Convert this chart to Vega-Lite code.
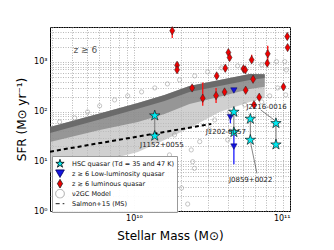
{
  "$schema": "https://vega.github.io/schema/vega-lite/v6.json",
  "width": 240,
  "height": 184,
  "autosize": {"type": "none"},
  "padding": {"left": 50, "top": 27, "right": 44, "bottom": 39},
  "background": "white",
  "config": {
    "view": {"stroke": "black", "strokeWidth": 1},
    "font": "DejaVu Sans",
    "axis": {"labelFont": "DejaVu Sans", "titleFont": "DejaVu Sans", "labelColor": "black", "titleColor": "black", "titleFontWeight": "normal"}
  },
  "datasets": {
    "band": [
      {"m": 2.9e9, "lo": 6.1, "hi": 49.0, "dlo": 24.4, "clo": 37.1},
      {"m": 6.03e9, "lo": 9.7, "hi": 91.6, "dlo": 42.6, "clo": 69.3},
      {"m": 1.06e10, "lo": 15.4, "hi": 149, "dlo": 61.8, "clo": 113},
      {"m": 1.57e10, "lo": 26.8, "hi": 216, "dlo": 89.5, "clo": 163},
      {"m": 2.27e10, "lo": 46.8, "hi": 327, "dlo": 142, "clo": 248},
      {"m": 3.54e10, "lo": 98, "hi": 432, "dlo": 197, "clo": 327},
      {"m": 5.52e10, "lo": 156, "hi": 571, "dlo": 285, "clo": 432},
      {"m": 6.89e10, "lo": 188, "hi": 560, "dlo": 313, "clo": 470}
    ],
    "model": [
      {"m": 3.34e9, "s": 61.8}, {"m": 4.17e9, "s": 74.3}, {"m": 5.05e9, "s": 98.2}, {"m": 6.03e9, "s": 130},
      {"m": 7.52e9, "s": 171}, {"m": 9.12e9, "s": 206}, {"m": 1.12e10, "s": 248}, {"m": 1.36e10, "s": 298},
      {"m": 1.64e10, "s": 359}, {"m": 1.96e10, "s": 432}, {"m": 2.45e10, "s": 520}, {"m": 2.97e10, "s": 627},
      {"m": 3.65e10, "s": 754}, {"m": 4.62e10, "s": 827}, {"m": 6.59e10, "s": 867}, {"m": 8.19e10, "s": 1009},
      {"m": 9.25e10, "s": 1009}, {"m": 9.48e10, "s": 687}, {"m": 8.34e10, "s": 298}, {"m": 7.41e10, "s": 206},
      {"m": 6.59e10, "s": 156}, {"m": 9.38e10, "s": 216}, {"m": 2.64e10, "s": 24.8}, {"m": 2.38e10, "s": 9.8},
      {"m": 2.21e10, "s": 1.38}, {"m": 2.02e10, "s": 2.9}, {"m": 2.44e10, "s": 7.2}, {"m": 2.33e10, "s": 16.9},
      {"m": 1.69e10, "s": 13.4}, {"m": 1.26e10, "s": 8.4}, {"m": 8.09e9, "s": 11.7}, {"m": 5.6e9, "s": 7.3},
      {"m": 3.6e9, "s": 6.1}, {"m": 3.29e10, "s": 67.8}, {"m": 4.1e10, "s": 98}, {"m": 5.13e10, "s": 136},
      {"m": 3.05e10, "s": 42.7}, {"m": 1.82e10, "s": 33.8}, {"m": 3.99e10, "s": 26.8}, {"m": 8.09e9, "s": 5.3}
    ],
    "ms": [
      {"m": 2.9e9, "s": 15.6},
      {"m": 3.13e10, "s": 56.3}
    ],
    "lum": [
      {"m": 1.76e10, "s": 4200, "lo": 3020, "hi": 4400},
      {"m": 1.89e10, "s": 850, "lo": 760, "hi": 950},
      {"m": 1.89e10, "s": 690, "lo": 610, "hi": 780},
      {"m": 2.36e10, "s": 298, "lo": 260, "hi": 340},
      {"m": 2.76e10, "s": 185, "lo": 130, "hi": 381},
      {"m": 3.39e10, "s": 520, "lo": 450, "hi": 600},
      {"m": 3.36e10, "s": 209, "lo": 149, "hi": 298},
      {"m": 3.85e10, "s": 742, "lo": 640, "hi": 860},
      {"m": 3.81e10, "s": 247, "lo": 215, "hi": 285},
      {"m": 4.03e10, "s": 1530, "lo": 1350, "hi": 1750},
      {"m": 4.1e10, "s": 1216, "lo": 1060, "hi": 1400},
      {"m": 5.03e10, "s": 720, "lo": 630, "hi": 820},
      {"m": 5.17e10, "s": 687, "lo": 600, "hi": 790},
      {"m": 5.2e10, "s": 268, "lo": 235, "hi": 305},
      {"m": 5.68e10, "s": 1093, "lo": 960, "hi": 1377},
      {"m": 5.8e10, "s": 446, "lo": 390, "hi": 510},
      {"m": 5.88e10, "s": 137, "lo": 120, "hi": 156},
      {"m": 6.35e10, "s": 194, "lo": 170, "hi": 220},
      {"m": 7.2e10, "s": 1445, "lo": 1010, "hi": 2090},
      {"m": 7.15e10, "s": 937, "lo": 820, "hi": 1070},
      {"m": 9.08e10, "s": 313, "lo": 275, "hi": 355},
      {"m": 9.6e10, "s": 3214, "lo": 2850, "hi": 3600},
      {"m": 9.65e10, "s": 1930, "lo": 1700, "hi": 2200}
    ],
    "lowl": [
      {"m": 4.37e10, "s": 264, "lo": 264, "hi": 264},
      {"m": 4.15e10, "s": 77, "lo": 58, "hi": 82},
      {"m": 4.37e10, "s": 19.7, "lo": 8.7, "hi": 34}
    ],
    "hsc": [
      {"name": "J1152+0055", "m": 1.36e10, "hi": 82.7, "lo": 32.3},
      {"name": "J1202-0057", "m": 4.37e10, "hi": 98, "lo": 38.3},
      {"name": "J0859+0022", "m": 5.57e10, "hi": 71, "lo": 26.8},
      {"name": "J2216-0016", "m": 8.13e10, "hi": 58, "lo": 21.6}
    ],
    "hscpts": [
      {"m": 1.36e10, "s": 82.7}, {"m": 1.36e10, "s": 32.3},
      {"m": 4.37e10, "s": 98}, {"m": 4.37e10, "s": 38.3},
      {"m": 5.57e10, "s": 71}, {"m": 5.57e10, "s": 26.8},
      {"m": 8.13e10, "s": 58}, {"m": 8.13e10, "s": 21.6}
    ],
    "leaders": [
      {"m": 5.6e10, "s": 23, "m2": 6.14e10, "s2": 5.7},
      {"m": 6.49e10, "s": 107.7, "m2": 8.0e10, "s2": 66}
    ],
    "labels": [
      {"text": "J1152+0055", "m": 1.51e10, "s": 21.3, "align": "center"},
      {"text": "J1202-0057", "m": 3.88e10, "s": 38.3, "align": "right"},
      {"text": "J0859+0022", "m": 5.6e10, "s": 4.15, "align": "center"},
      {"text": "J2216-0016", "m": 7.07e10, "s": 125.6, "align": "center"}
    ],
    "zlabel": [{"text": "z ≳ 6", "m": 4.1e9, "s": 1740}]
  },
  "layer": [
    {
      "data": {"name": "band"},
      "mark": {"type": "area", "color": "#bcbcbc", "opacity": 0.7, "clip": true},
      "encoding": {
        "x": {"field": "m", "type": "quantitative",
          "scale": {"type": "log", "domain": [2.9e9, 1e11], "nice": false},
          "axis": {"title": "Stellar Mass (M⊙)", "titleFontSize": 12, "titlePadding": 8, "labelFontSize": 8, "labelPadding": 3,
            "values": [3e9, 4e9, 5e9, 6e9, 7e9, 8e9, 9e9, 1e10, 2e10, 3e10, 4e10, 5e10, 6e10, 7e10, 8e10, 9e10, 1e11],
            "labelExpr": "datum.value == 1e10 ? '10¹⁰' : datum.value == 1e11 ? '10¹¹' : ''",
            "grid": true, "gridColor": "#9a9a9a", "gridDash": [1, 1.5], "gridWidth": 0.7, "ticks": false, "domain": false}},
        "y": {"field": "lo", "type": "quantitative",
          "scale": {"type": "log", "domain": [1, 5000], "nice": false},
          "axis": {"title": "SFR (M⊙ yr⁻¹)", "titleFontSize": 12, "titlePadding": 5, "labelFontSize": 8, "labelPadding": 3,
            "values": [1, 2, 3, 4, 5, 6, 7, 8, 9, 10, 20, 30, 40, 50, 60, 70, 80, 90, 100, 200, 300, 400, 500, 600, 700, 800, 900, 1000, 2000, 3000, 4000, 5000],
            "labelExpr": "datum.value == 1 ? '10⁰' : datum.value == 10 ? '10¹' : datum.value == 100 ? '10²' : datum.value == 1000 ? '10³' : ''",
            "grid": true, "gridColor": "#9a9a9a", "gridDash": [1, 1.5], "gridWidth": 0.7, "ticks": false, "domain": false}},
        "y2": {"field": "hi"}
      }
    },
    {
      "data": {"name": "band"},
      "mark": {"type": "area", "color": "#7e7e7e", "opacity": 0.7, "clip": true},
      "encoding": {
        "x": {"field": "m", "type": "quantitative", "scale": {"type": "log"}},
        "y": {"field": "dlo", "type": "quantitative", "scale": {"type": "log"}},
        "y2": {"field": "hi"}
      }
    },
    {
      "data": {"name": "band"},
      "mark": {"type": "area", "color": "#555555", "opacity": 0.65, "clip": true},
      "encoding": {
        "x": {"field": "m", "type": "quantitative", "scale": {"type": "log"}},
        "y": {"field": "clo", "type": "quantitative", "scale": {"type": "log"}},
        "y2": {"field": "hi"}
      }
    },
    {
      "data": {"name": "model"},
      "mark": {"type": "point", "filled": true, "strokeWidth": 0.7, "size": 18, "opacity": 0.8},
      "encoding": {
        "x": {"field": "m", "type": "quantitative", "scale": {"type": "log"}},
        "y": {"field": "s", "type": "quantitative", "scale": {"type": "log"}},
        "shape": {"datum": "Model",
          "scale": {"domain": ["HSC", "LowL", "Lum", "Model", "MS"], "range": ["M0,-1L0.225,-0.309L0.951,-0.309L0.363,0.118L0.588,0.809L0,0.382L-0.588,0.809L-0.363,0.118L-0.951,-0.309L-0.225,-0.309Z", "triangle-down", "M0,-1L0.6,0L0,1L-0.6,0Z", "circle", "stroke"]},
          "legend": {"title": null, "orient": "none", "legendX": 2, "legendY": 129,
            "fillColor": "rgba(255,255,255,0.93)", "strokeColor": "#999", "padding": 3, "cornerRadius": 0,
            "labelFontSize": 6.5, "labelFont": "DejaVu Sans", "labelColor": "#111", "symbolSize": 75, "rowPadding": 0, "clipHeight": 9.4, "labelOffset": 7, "labelLimit": 200,
            "symbolStrokeWidth": 0.9, "symbolOpacity": 1,
            "labelExpr": "datum.value == 'HSC' ? 'HSC quasar (Td = 35 and 47 K)' : datum.value == 'LowL' ? 'z ≥ 6 Low-luminosity quasar' : datum.value == 'Lum' ? 'z ≳ 6 luminous quasar' : datum.value == 'Model' ? 'ν2GC Model' : 'Salmon+15 (MS)'"}},
        "fill": {"datum": "Model",
          "scale": {"domain": ["HSC", "LowL", "Lum", "Model", "MS"], "range": ["#00eaf0", "#1414e0", "#ee0000", "transparent", "transparent"]},
          "legend": {"title": null}},
        "stroke": {"datum": "Model",
          "scale": {"domain": ["HSC", "LowL", "Lum", "Model", "MS"], "range": ["#000000", "#000060", "#222222", "#9a9a9a", "#000000"]},
          "legend": {"title": null}}
      }
    },
    {
      "data": {"name": "ms"},
      "mark": {"type": "line", "strokeWidth": 2, "clip": true},
      "encoding": {
        "x": {"field": "m", "type": "quantitative", "scale": {"type": "log"}},
        "y": {"field": "s", "type": "quantitative", "scale": {"type": "log"}},
        "stroke": {"datum": "MS"},
        "strokeDash": {"datum": "MS",
          "scale": {"domain": ["HSC", "LowL", "Lum", "Model", "MS"], "range": [[1, 0], [1, 0], [1, 0], [1, 0], [4, 3]]},
          "legend": {"title": null}}
      }
    },
    {
      "data": {"name": "hsc"},
      "mark": {"type": "rule", "color": "#777", "strokeWidth": 1},
      "encoding": {
        "x": {"field": "m", "type": "quantitative", "scale": {"type": "log"}},
        "y": {"field": "lo", "type": "quantitative", "scale": {"type": "log"}},
        "y2": {"field": "hi"}
      }
    },
    {
      "data": {"name": "leaders"},
      "mark": {"type": "rule", "color": "#333", "strokeWidth": 0.6},
      "encoding": {
        "x": {"field": "m", "type": "quantitative", "scale": {"type": "log"}},
        "y": {"field": "s", "type": "quantitative", "scale": {"type": "log"}},
        "x2": {"field": "m2"},
        "y2": {"field": "s2"}
      }
    },
    {
      "data": {"name": "lum"},
      "mark": {"type": "rule", "color": "#ff1010", "strokeWidth": 1.3},
      "encoding": {
        "x": {"field": "m", "type": "quantitative", "scale": {"type": "log"}},
        "y": {"field": "lo", "type": "quantitative", "scale": {"type": "log"}},
        "y2": {"field": "hi"}
      }
    },
    {
      "data": {"name": "lum"},
      "mark": {"type": "point", "filled": true, "strokeWidth": 0.5, "size": 70, "opacity": 1},
      "encoding": {
        "x": {"field": "m", "type": "quantitative", "scale": {"type": "log"}},
        "y": {"field": "s", "type": "quantitative", "scale": {"type": "log"}},
        "shape": {"datum": "Lum"},
        "fill": {"datum": "Lum"},
        "stroke": {"datum": "Lum"}
      }
    },
    {
      "data": {"name": "lowl"},
      "mark": {"type": "rule", "color": "#1a1aff", "strokeWidth": 1.3},
      "encoding": {
        "x": {"field": "m", "type": "quantitative", "scale": {"type": "log"}},
        "y": {"field": "lo", "type": "quantitative", "scale": {"type": "log"}},
        "y2": {"field": "hi"}
      }
    },
    {
      "data": {"name": "lowl"},
      "mark": {"type": "point", "filled": true, "strokeWidth": 0.5, "size": 40, "opacity": 1},
      "encoding": {
        "x": {"field": "m", "type": "quantitative", "scale": {"type": "log"}},
        "y": {"field": "s", "type": "quantitative", "scale": {"type": "log"}},
        "shape": {"datum": "LowL"},
        "fill": {"datum": "LowL"},
        "stroke": {"datum": "LowL"}
      }
    },
    {
      "data": {"name": "hscpts"},
      "mark": {"type": "point", "filled": true, "strokeWidth": 0.6, "size": 120, "opacity": 1},
      "encoding": {
        "x": {"field": "m", "type": "quantitative", "scale": {"type": "log"}},
        "y": {"field": "s", "type": "quantitative", "scale": {"type": "log"}},
        "shape": {"datum": "HSC"},
        "fill": {"datum": "HSC"},
        "stroke": {"datum": "HSC"}
      }
    },
    {
      "data": {"name": "labels"},
      "mark": {"type": "text", "fontSize": 7, "color": "#222", "baseline": "middle", "font": "DejaVu Sans"},
      "encoding": {
        "x": {"field": "m", "type": "quantitative", "scale": {"type": "log"}},
        "y": {"field": "s", "type": "quantitative", "scale": {"type": "log"}},
        "text": {"field": "text"},
        "align": {"field": "align", "type": "nominal", "scale": null}
      }
    },
    {
      "data": {"name": "zlabel"},
      "mark": {"type": "text", "fontSize": 9, "color": "#555", "baseline": "middle", "align": "left", "font": "DejaVu Sans"},
      "encoding": {
        "x": {"field": "m", "type": "quantitative", "scale": {"type": "log"}},
        "y": {"field": "s", "type": "quantitative", "scale": {"type": "log"}},
        "text": {"field": "text"}
      }
    }
  ]
}
